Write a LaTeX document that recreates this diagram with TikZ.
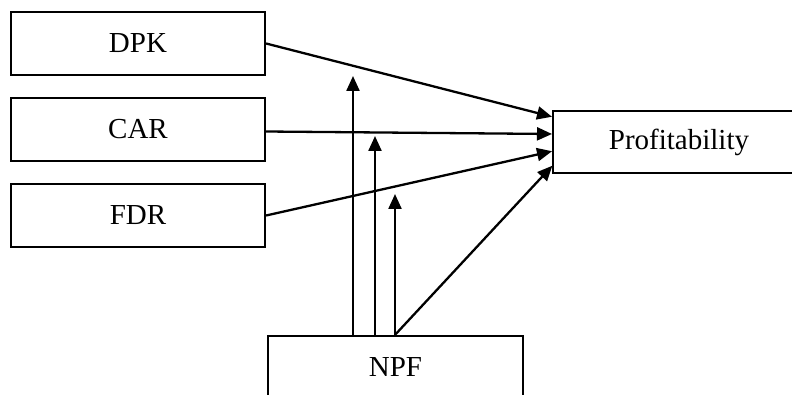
\documentclass[tikz,border=0pt]{standalone}
\usepackage{fontspec}
\setmainfont{Liberation Serif}
\usetikzlibrary{arrows.meta}
\begin{document}
\begin{tikzpicture}[x=1pt,y=1pt,
  box/.style={draw=black,line width=2.2pt,minimum width=254pt,minimum height=63pt,inner sep=0pt,font=\fontsize{29}{34}\selectfont},
  conn/.style={line width=2.3pt,-{Triangle[length=15pt,width=13pt]},shorten >=1pt}]
\useasboundingbox (0,0) rectangle (792,394);
\node[box] (dpk) at (138,350.5) {DPK};
\node[box] (car) at (138,264.5) {CAR};
\node[box] (fdr) at (138,178.5) {FDR};
\node[box,minimum width=252pt,minimum height=62pt] (prof) at (679,252) {Profitability};
\node[box,minimum width=255pt] (npf) at (395.5,26.5) {NPF};
\coordinate (t1) at (553,277);
\coordinate (t2) at (553,260);
\coordinate (t3) at (553,243);
\coordinate (t4) at (553,229);
\coordinate (v1) at (353,318);
\coordinate (v2) at (375,258);
\coordinate (v3) at (395,200);
\draw[conn] (dpk.east) -- (t1);
\draw[conn] ([yshift=-2pt]car.east) -- (t2);
\draw[conn] (fdr.east) -- (t3);
\draw[conn] ([xshift=-0.5pt]npf.north) -- (t4);
\draw[conn,shorten >=0pt] ([xshift=-42.5pt]npf.north) -- (v1);
\draw[conn,shorten >=0pt] ([xshift=-20.5pt]npf.north) -- (v2);
\draw[conn,shorten >=0pt] ([xshift=-0.5pt]npf.north) -- (v3);
\end{tikzpicture}
\end{document}
